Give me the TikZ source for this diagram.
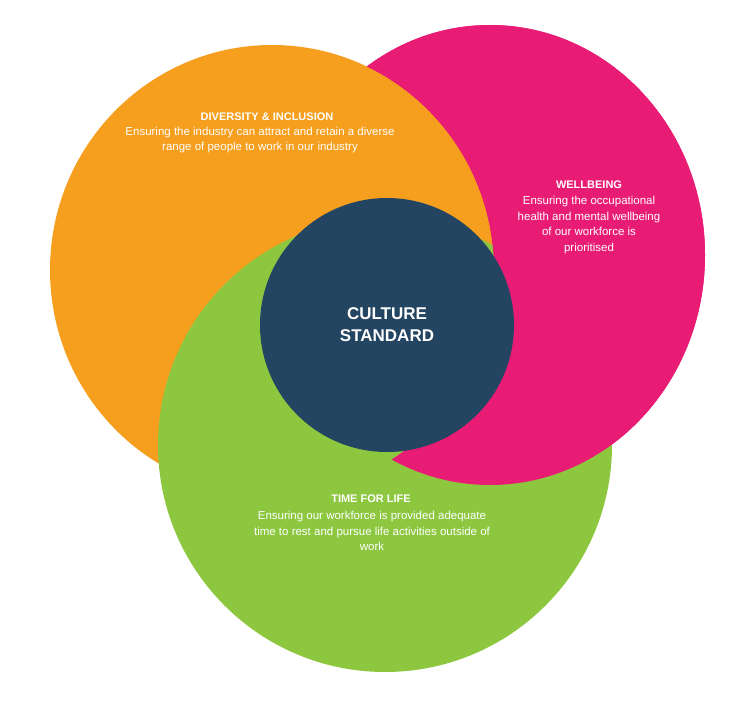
\documentclass[tikz,border=0pt]{standalone}
\usepackage{fontspec}
\setmainfont{Liberation Sans}
\definecolor{cor}{HTML}{F69E1D}
\definecolor{cpk}{HTML}{E91C75}
\definecolor{cgr}{HTML}{8DC73F}
\definecolor{cdk}{HTML}{234561}
\begin{document}
\begin{tikzpicture}[x=1pt,y=-1pt,
  txt/.style={text=white,align=center,font=\fontsize{11.5}{15.5}\selectfont},
  ttl/.style={text=white,font=\bfseries\fontsize{11}{13}\selectfont}]
\useasboundingbox (0,0) rectangle (751,703);
\fill[cpk] (490,255) ellipse [x radius=215,y radius=230];
\fill[cor] (272,270) ellipse [x radius=222,y radius=225];
\fill[cgr] (385,445) circle (227);
\begin{scope}[even odd rule]
\clip (0,0) rectangle (751,703) (272,270) ellipse [x radius=222,y radius=225];
\fill[cpk] (490,255) ellipse [x radius=215,y radius=230];
\end{scope}
\fill[cdk] (387,325) circle (127) node[text=white,align=center,font=\bfseries\fontsize{17}{22}\selectfont] (cs) {CULTURE\\STANDARD};
\node[ttl] (dt) at (267,117) {DIVERSITY \& INCLUSION};
\node[txt] (dd) at (260,140) {Ensuring the industry can attract and retain a diverse\\range of people to work in our industry};
\node[ttl] (wt) at (589,185) {WELLBEING};
\node[txt] (wd) at (589,225) {Ensuring the occupational\\health and mental wellbeing\\of our workforce is\\prioritised};
\node[ttl] (tt) at (371,499) {TIME FOR LIFE};
\node[txt] (td) at (372,531) {Ensuring our workforce is provided adequate\\time to rest and pursue life activities outside of\\work};
\end{tikzpicture}
\end{document}
